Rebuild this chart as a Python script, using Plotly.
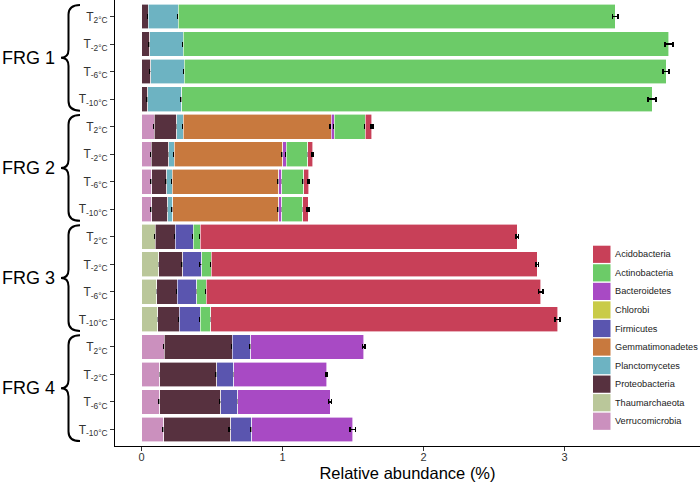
import plotly.graph_objects as go

# ---------------- data ----------------
row_labels = ["T<sub>2°C</sub>", "T<sub>-2°C</sub>", "T<sub>-6°C</sub>", "T<sub>-10°C</sub>"] * 4
groups = ["FRG 1", "FRG 2", "FRG 3", "FRG 4"]

# legend order (ggplot factor order)
phyla = ["Acidobacteria", "Actinobacteria", "Bacteroidetes", "Chlorobi", "Firmicutes",
         "Gemmatimonadetes", "Planctomycetes", "Proteobacteria", "Thaumarchaeota", "Verrucomicrobia"]
colors = {
    "Acidobacteria": "#C84058",
    "Actinobacteria": "#6CCB68",
    "Bacteroidetes": "#A84AC4",
    "Chlorobi": "#C9CB48",
    "Firmicutes": "#5A55AF",
    "Gemmatimonadetes": "#C8793E",
    "Planctomycetes": "#6DB3C2",
    "Proteobacteria": "#57313F",
    "Thaumarchaeota": "#BAC79A",
    "Verrucomicrobia": "#CB90BE",
}

N = None
# values per row: FRG1 (T2,T-2,T-6,T-10), FRG2 (...), FRG3 (...), FRG4 (...)
values = {
    "Verrucomicrobia": [N, N, N, N, 0.090, 0.069, 0.071, 0.071, N, N, N, N, 0.159, 0.130, 0.128, 0.156],
    "Thaumarchaeota": [N, N, N, N, N, N, N, N, 0.097, 0.121, 0.107, 0.114, N, N, N, N],
    "Proteobacteria": [0.047, 0.059, 0.064, 0.045, 0.159, 0.123, 0.107, 0.114,
                       0.142, 0.170, 0.147, 0.151, 0.483, 0.403, 0.433, 0.477],
    "Planctomycetes": [0.214, 0.237, 0.239, 0.239, 0.047, 0.040, 0.040, 0.035, N, N, N, N, N, N, N, N],
    "Gemmatimonadetes": [N, N, N, N, 1.047, 0.770, 0.756, 0.754, N, N, N, N, N, N, N, N],
    "Firmicutes": [N, N, N, N, N, N, N, N, 0.128, 0.135, 0.137, 0.152, 0.133, 0.121, 0.121, 0.149],
    "Chlorobi": [N] * 16,
    "Bacteroidetes": [N, N, N, N, 0.024, 0.024, 0.021, 0.021, N, N, N, N, 0.801, 0.659, 0.654, 0.716],
    "Actinobacteria": [3.099, 3.444, 3.417, 3.336, 0.220, 0.152, 0.154, 0.149,
                       0.050, 0.067, 0.066, 0.073, N, N, N, N],
    "Acidobacteria": [N, N, N, N, 0.045, 0.035, 0.036, 0.036, 2.248, 2.312, 2.373, 2.460, N, N, N, N],
}
errors = {
    "Verrucomicrobia": [N, N, N, N, 0.004, 0.003, 0.003, 0.003, N, N, N, N, 0.004, 0.003, 0.003, 0.006],
    "Thaumarchaeota": [N, N, N, N, N, N, N, N, 0.002, 0.002, 0.002, 0.002, N, N, N, N],
    "Proteobacteria": [0.006, 0.008, 0.007, 0.006, 0.003, 0.003, 0.004, 0.003,
                       0.003, 0.004, 0.003, 0.003, 0.004, 0.004, 0.010, 0.012],
    "Planctomycetes": [0.003, 0.004, 0.004, 0.003, 0.003, 0.003, 0.003, 0.003, N, N, N, N, N, N, N, N],
    "Gemmatimonadetes": [N, N, N, N, 0.008, 0.006, 0.006, 0.006, N, N, N, N, N, N, N, N],
    "Firmicutes": [N, N, N, N, N, N, N, N, 0.003, 0.015, 0.003, 0.003, 0.008, 0.003, 0.003, 0.006],
    "Chlorobi": [N] * 16,
    "Bacteroidetes": [N, N, N, N, 0.004, 0.004, 0.004, 0.004, N, N, N, N, 0.010, 0.006, 0.010, 0.019],
    "Actinobacteria": [0.020, 0.028, 0.022, 0.030, 0.004, 0.003, 0.003, 0.003,
                       0.003, 0.003, 0.003, 0.003, N, N, N, N],
    "Acidobacteria": [N, N, N, N, 0.007, 0.006, 0.006, 0.006, 0.008, 0.010, 0.015, 0.018, N, N, N, N],
}
x_ticks = [0, 1, 2, 3]

# ---------------- figure ----------------
rows = list(range(len(row_labels)))
fig = go.Figure()
stack_order = list(reversed(phyla))  # Verrucomicrobia nearest zero
for name in stack_order:
    fig.add_trace(go.Bar(
        y=rows, x=values[name], orientation="h", name=name,
        marker=dict(color=colors[name], line=dict(color="white", width=0.6)),
        width=0.9, showlegend=False,
        error_x=dict(type="data", array=errors[name], color="black", thickness=1.6, width=2.5),
    ))

W, H = 700, 482
ML, MR, MT, MB = 115, 0, 0, 36
PW, PH = W - ML - MR, H - MT - MB
y_lo, y_hi = -0.6, 15.6


def px2paper_x(px):
    return (px - ML) / PW


def row2paper_y(r):
    return (y_hi - r) / (y_hi - y_lo)


def ypx2paper(py):
    return 1 - (py - MT) / PH


shapes = []
annotations = []
# group labels and braces
for g, label in enumerate(groups):
    top, bot, mid = 4 * g - 0.42, 4 * g + 3.42, 4 * g + 1.5
    xe, xm, xt = px2paper_x(80), px2paper_x(68.5), px2paper_x(61)
    yt, yb, ym = row2paper_y(top), row2paper_y(bot), row2paper_y(mid)
    d1 = 0.35 / (y_hi - y_lo)
    d2 = 0.3 / (y_hi - y_lo)
    path = (f"M {xe},{yt} Q {xm},{yt} {xm},{yt - d1} L {xm},{ym + d2} "
            f"Q {xm},{ym} {xt},{ym} Q {xm},{ym} {xm},{ym - d2} "
            f"L {xm},{yb + d1} Q {xm},{yb} {xe},{yb}")
    shapes.append(dict(type="path", path=path, xref="paper", yref="paper",
                       line=dict(color="black", width=2)))
    annotations.append(dict(text=label, x=px2paper_x(0), y=mid, xref="paper", yref="y",
                            xanchor="left", yanchor="middle", showarrow=False,
                            font=dict(size=18, color="black")))

# legend (ggplot-style squares inside panel)
for i, name in enumerate(phyla):
    cy = 254.3 + 18.55 * i
    shapes.append(dict(type="rect", xref="paper", yref="paper",
                       x0=px2paper_x(593), x1=px2paper_x(610.5),
                       y0=ypx2paper(cy - 8.6), y1=ypx2paper(cy + 8.6),
                       fillcolor=colors[name], line=dict(width=0)))
    annotations.append(dict(text=name, x=px2paper_x(613), y=ypx2paper(cy), xref="paper", yref="paper",
                            xanchor="left", yanchor="middle", showarrow=False,
                            font=dict(size=9.2, color="#1a1a1a")))

fig.update_layout(
    barmode="stack",
    width=W, height=H,
    margin=dict(l=ML, r=MR, t=MT, b=MB, autoexpand=False),
    paper_bgcolor="white", plot_bgcolor="white",
    font=dict(family="Liberation Sans, Arial, sans-serif", color="#333"),
    shapes=shapes, annotations=annotations,
    showlegend=False,
    bargap=0.1,
)
fig.update_xaxes(
    range=[-0.189, 3.96], tickvals=x_ticks, ticktext=[str(t) for t in x_ticks],
    showgrid=False, zeroline=False, showline=True, linecolor="black", linewidth=1,
    ticks="outside", ticklen=4, tickcolor="#333", tickfont=dict(size=11, color="#333"),
    ticklabelstandoff=-3,
    title=dict(text="Relative abundance (%)", font=dict(size=16.5, color="black"), standoff=6),
)
fig.update_yaxes(
    range=[y_hi, y_lo], tickvals=rows, ticktext=row_labels,
    showgrid=False, zeroline=False, showline=True, linecolor="black", linewidth=1,
    ticks="outside", ticklen=4, tickcolor="#333", tickfont=dict(size=12, color="#333"),
)

fig.write_html("out.html", config={"displayModeBar": False},
               post_script="document.body.style.margin='0px';")
